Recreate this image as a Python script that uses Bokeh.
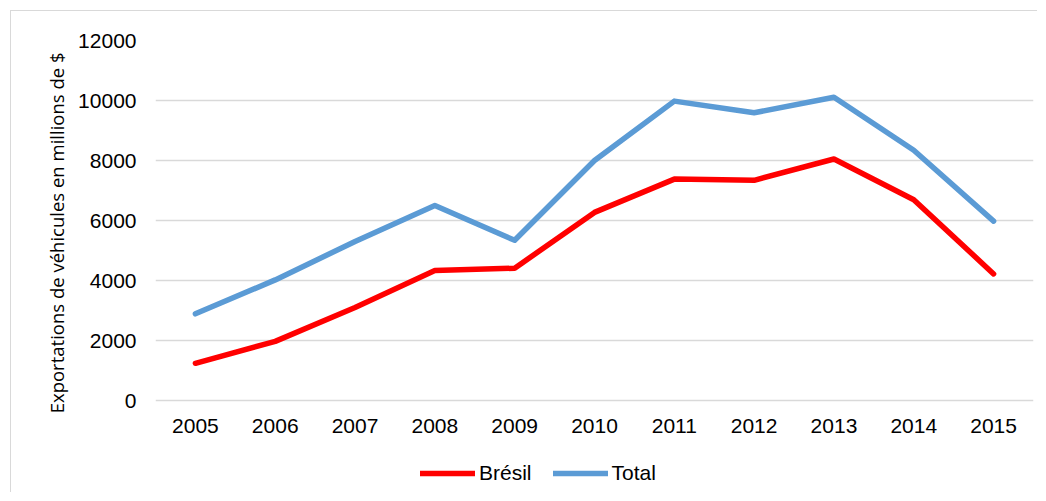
from bokeh.plotting import figure
from bokeh.models import Range1d, Legend, LegendItem, FactorRange, Title
from bokeh.embed import file_html
from bokeh.resources import INLINE

years = ["2005", "2006", "2007", "2008", "2009", "2010", "2011", "2012", "2013", "2014", "2015"]
bresil = [1240, 1970, 3100, 4330, 4410, 6270, 7380, 7340, 8050, 6690, 4220]
total = [2890, 4020, 5300, 6500, 5340, 8000, 9980, 9590, 10110, 8340, 5980]
y_ticks = [0, 2000, 4000, 6000, 8000, 10000, 12000]
y_title = "Exportations de véhicules en millions de $"

FONT = "Liberation Sans"

# frame spans down to the canvas bottom; the x axis is pinned at y=0 inside it
p = figure(width=1027, height=482, x_range=FactorRange(*years, range_padding=0),
           y_range=Range1d(-3100, 12000), output_backend="svg", toolbar_location=None,
           min_border_left=144, min_border_right=5, min_border_top=29, min_border_bottom=0)
p.styles = {"margin-left": "10px", "margin-top": "10px",
            "border-left": "1px solid #d9d9d9", "border-top": "1px solid #d9d9d9"}
p.outline_line_color = None
p.background_fill_color = "white"
p.border_fill_color = "white"

r1 = p.line(years, bresil, line_color="#FF0000", line_width=5.5, line_cap="round", line_join="round")
r2 = p.line(years, total, line_color="#5B9BD5", line_width=5.5, line_cap="round", line_join="round")

p.xgrid.grid_line_color = None
p.ygrid.grid_line_color = "#D9D9D9"
p.ygrid.grid_line_width = 1.5
p.yaxis.ticker = y_ticks
p.xaxis.fixed_location = 0

for ax in (p.xaxis[0], p.yaxis[0]):
    ax.axis_line_color = None
    ax.major_tick_line_color = None
    ax.minor_tick_line_color = None
    ax.major_label_text_font = FONT
    ax.major_label_text_font_size = "21px"
    ax.major_label_text_color = "#000000"

p.yaxis.major_label_standoff = 13
p.xaxis.major_label_standoff = 12

ytitle = Title(text=y_title, align="right", offset=12, standoff=14,
               text_font="Open Sans", text_font_style="normal",
               text_font_size="18.5px", text_color="#000000")
p.add_layout(ytitle, "left")

legend = Legend(items=[LegendItem(label="Brésil", renderers=[r1]),
                       LegendItem(label="Total", renderers=[r2])],
                orientation="horizontal", location=(265, 8),
                glyph_width=55, glyph_height=24, label_standoff=4, spacing=21,
                padding=0, margin=0, border_line_color=None,
                background_fill_alpha=0,
                label_text_font=FONT, label_text_font_size="21px", label_text_color="#000000")
p.add_layout(legend, "center")

open("out.html", "w").write(file_html(p, INLINE))
